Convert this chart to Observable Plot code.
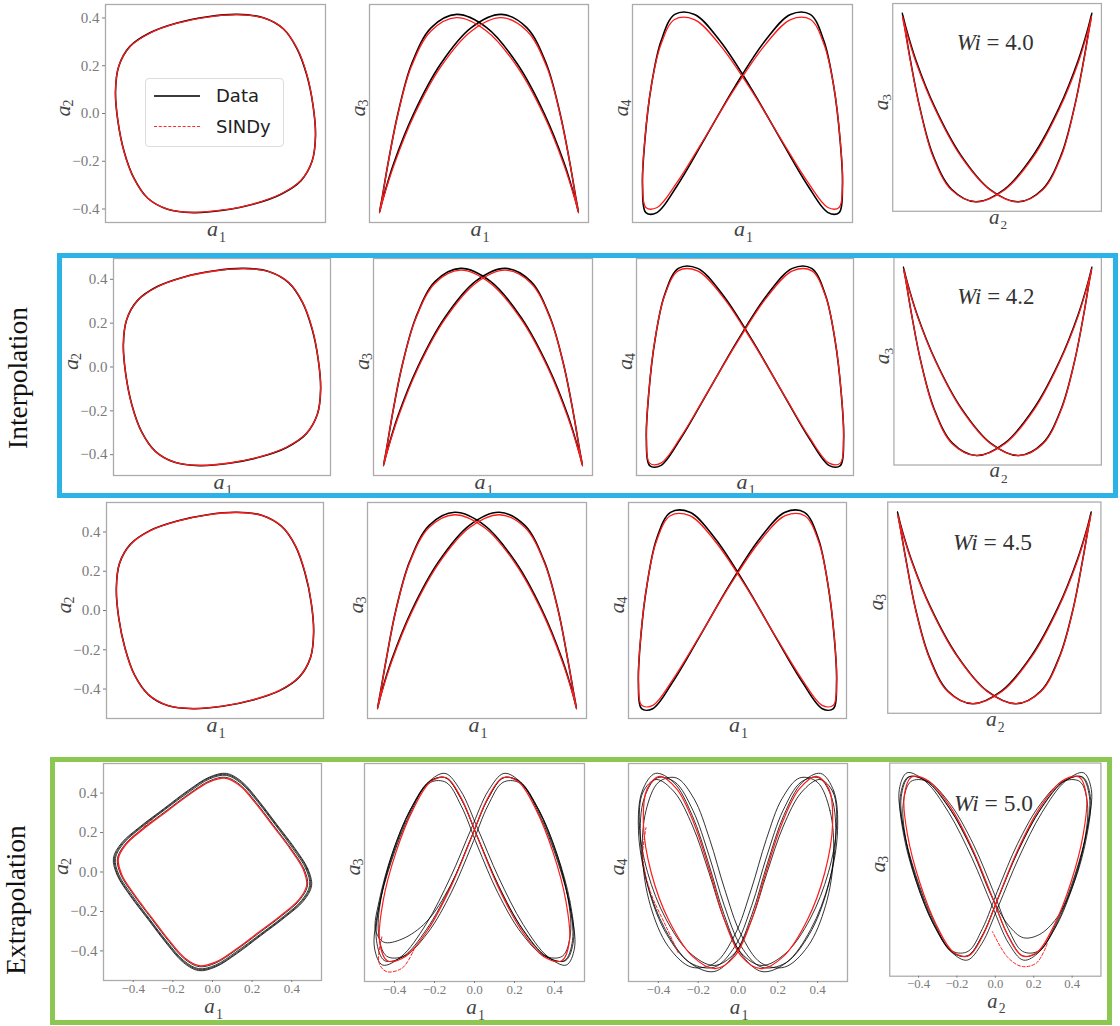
<!DOCTYPE html>
<html><head><meta charset="utf-8">
<script src="https://cdn.jsdelivr.net/npm/d3@7"></script>
<script src="https://cdn.jsdelivr.net/npm/@observablehq/plot@0.6"></script>
<style>
body{margin:0;background:#fff;}
#root{position:relative;width:1120px;height:1026px;overflow:hidden;background:#fff;}
.panel{position:absolute;}
.box{position:absolute;box-sizing:border-box;}
.rowlabel{position:absolute;font-family:"Liberation Serif",serif;font-size:27.5px;color:#111;transform:translate(-50%,-50%) rotate(-90deg);white-space:nowrap;}
.legend{position:absolute;left:145px;top:78px;width:139px;height:69px;box-sizing:border-box;border:1px solid #dcdcdc;border-radius:4px;background:rgba(255,255,255,0.85);font-family:"DejaVu Sans",sans-serif;font-size:18px;color:#222;}
.legend .ln{position:absolute;left:8px;width:46px;}
.legend .tx{position:absolute;left:70px;line-height:20px;}
</style></head><body><div id="root"></div>
<script>
// ---------- data (phase samples of each trajectory) ----------
const tickValues = [-0.4, -0.2, 0.0, 0.2, 0.4];
const wiLabels = ["4.0", "4.2", "4.5", "5.0"];
const rowNames = ["Interpolation", "Extrapolation"];

// Row 1, Wi = 4.0
const r1DataA1 = [0.415,0.405,0.379,0.338,0.281,0.199,0.093,-0.032,-0.160,-0.272,-0.355,-0.401,-0.415,-0.405,-0.379,-0.338,-0.281,-0.199,-0.093,0.032,0.160,0.272,0.355,0.401];
const r1DataA2 = [-0.093,0.032,0.160,0.272,0.355,0.401,0.415,0.405,0.379,0.338,0.281,0.199,0.093,-0.032,-0.160,-0.272,-0.355,-0.401,-0.415,-0.405,-0.379,-0.338,-0.281,-0.199];
const r1DataA3 = [-0.300,-0.260,-0.150,0.000,0.150,0.260,0.300,0.260,0.150,0.000,-0.150,-0.260,-0.300,-0.260,-0.150,0.000,0.150,0.260,0.300,0.260,0.150,0.000,-0.150,-0.260];
const r1DataA4 = [-0.212,-0.078,0.078,0.212,0.290,0.290,0.212,0.078,-0.078,-0.212,-0.290,-0.290,-0.212,-0.078,0.078,0.212,0.290,0.290,0.212,0.078,-0.078,-0.212,-0.290,-0.290];
const r1SindyA1 = [0.415,0.405,0.380,0.339,0.282,0.200,0.094,-0.031,-0.159,-0.271,-0.354,-0.401,-0.415,-0.405,-0.380,-0.339,-0.282,-0.200,-0.094,0.031,0.159,0.271,0.354,0.401];
const r1SindyA2 = [-0.092,0.033,0.161,0.272,0.355,0.400,0.414,0.404,0.378,0.337,0.281,0.200,0.094,-0.031,-0.159,-0.271,-0.354,-0.400,-0.414,-0.404,-0.378,-0.337,-0.281,-0.200];
const r1SindyA3 = [-0.300,-0.262,-0.155,-0.006,0.142,0.250,0.290,0.250,0.142,-0.006,-0.155,-0.262,-0.300,-0.262,-0.155,-0.006,0.142,0.250,0.290,0.250,0.142,-0.006,-0.155,-0.262];
const r1SindyA4 = [-0.201,-0.074,0.074,0.201,0.275,0.275,0.201,0.074,-0.074,-0.201,-0.275,-0.275,-0.201,-0.074,0.074,0.201,0.275,0.275,0.201,0.074,-0.074,-0.201,-0.275,-0.275];

// Row 2, Wi = 4.2
const r2DataA1 = [0.450,0.439,0.411,0.367,0.304,0.216,0.101,-0.034,-0.173,-0.295,-0.385,-0.435,-0.450,-0.439,-0.411,-0.367,-0.304,-0.216,-0.101,0.034,0.173,0.295,0.385,0.435];
const r2DataA2 = [-0.101,0.034,0.173,0.295,0.385,0.435,0.450,0.439,0.411,0.367,0.304,0.216,0.101,-0.034,-0.173,-0.295,-0.385,-0.435,-0.450,-0.439,-0.411,-0.367,-0.304,-0.216];
const r2DataA3 = [-0.326,-0.283,-0.163,0.000,0.163,0.283,0.326,0.283,0.163,0.000,-0.163,-0.283,-0.326,-0.283,-0.163,0.000,0.163,0.283,0.326,0.283,0.163,0.000,-0.163,-0.283];
const r2DataA4 = [-0.230,-0.084,0.084,0.230,0.315,0.315,0.230,0.084,-0.084,-0.230,-0.315,-0.315,-0.230,-0.084,0.084,0.230,0.315,0.315,0.230,0.084,-0.084,-0.230,-0.315,-0.315];
const r2SindyA1 = [0.450,0.439,0.412,0.368,0.305,0.217,0.102,-0.033,-0.172,-0.294,-0.384,-0.435,-0.450,-0.439,-0.412,-0.368,-0.305,-0.217,-0.102,0.033,0.172,0.294,0.384,0.435];
const r2SindyA2 = [-0.100,0.035,0.174,0.295,0.385,0.434,0.449,0.438,0.410,0.366,0.304,0.217,0.102,-0.033,-0.172,-0.294,-0.384,-0.434,-0.449,-0.438,-0.410,-0.366,-0.304,-0.217];
const r2SindyA3 = [-0.326,-0.285,-0.167,-0.004,0.158,0.277,0.320,0.277,0.158,-0.004,-0.167,-0.285,-0.326,-0.285,-0.167,-0.004,0.158,0.277,0.320,0.277,0.158,-0.004,-0.167,-0.285];
const r2SindyA4 = [-0.225,-0.082,0.082,0.225,0.307,0.307,0.225,0.082,-0.082,-0.225,-0.307,-0.307,-0.225,-0.082,0.082,0.225,0.307,0.307,0.225,0.082,-0.082,-0.225,-0.307,-0.307];

// Row 3, Wi = 4.5
const r3DataA1 = [0.500,0.488,0.456,0.408,0.338,0.240,0.112,-0.038,-0.192,-0.328,-0.428,-0.484,-0.500,-0.488,-0.456,-0.408,-0.338,-0.240,-0.112,0.038,0.192,0.328,0.428,0.484];
const r3DataA2 = [-0.112,0.038,0.192,0.328,0.428,0.484,0.500,0.488,0.456,0.408,0.338,0.240,0.112,-0.038,-0.192,-0.328,-0.428,-0.484,-0.500,-0.488,-0.456,-0.408,-0.338,-0.240];
const r3DataA3 = [-0.362,-0.314,-0.181,0.000,0.181,0.314,0.362,0.314,0.181,0.000,-0.181,-0.314,-0.362,-0.314,-0.181,0.000,0.181,0.314,0.362,0.314,0.181,0.000,-0.181,-0.314];
const r3DataA4 = [-0.256,-0.094,0.094,0.256,0.350,0.350,0.256,0.094,-0.094,-0.256,-0.350,-0.350,-0.256,-0.094,0.094,0.256,0.350,0.350,0.256,0.094,-0.094,-0.256,-0.350,-0.350];
const r3SindyA1 = [0.500,0.488,0.457,0.409,0.339,0.241,0.113,-0.037,-0.191,-0.327,-0.427,-0.484,-0.500,-0.488,-0.457,-0.409,-0.339,-0.241,-0.113,0.037,0.191,0.327,0.427,0.484];
const r3SindyA2 = [-0.111,0.039,0.193,0.328,0.428,0.483,0.499,0.487,0.455,0.407,0.338,0.241,0.113,-0.037,-0.191,-0.327,-0.427,-0.483,-0.499,-0.487,-0.455,-0.407,-0.338,-0.241];
const r3SindyA3 = [-0.362,-0.316,-0.185,-0.005,0.175,0.306,0.353,0.306,0.175,-0.005,-0.185,-0.316,-0.362,-0.316,-0.185,-0.005,0.175,0.306,0.353,0.306,0.175,-0.005,-0.185,-0.316];
const r3SindyA4 = [-0.247,-0.091,0.091,0.247,0.338,0.338,0.247,0.091,-0.091,-0.247,-0.338,-0.338,-0.247,-0.091,0.091,0.247,0.338,0.338,0.247,0.091,-0.091,-0.247,-0.338,-0.338];

// Row 4, Wi = 5.0 (data: four successive loops of 24 samples)
const r4DataA1 = [
 0.490,0.472,0.406,0.317,0.226,0.145,0.069,-0.015,-0.118,-0.239,-0.358,-0.449,-0.490,-0.472,-0.406,-0.317,-0.226,-0.145,-0.069,0.015,0.118,0.239,0.358,0.449,
 0.500,0.481,0.415,0.323,0.230,0.147,0.070,-0.016,-0.121,-0.243,-0.365,-0.459,-0.500,-0.481,-0.415,-0.323,-0.230,-0.147,-0.070,0.016,0.121,0.243,0.365,0.459,
 0.480,0.462,0.398,0.310,0.221,0.142,0.067,-0.015,-0.116,-0.234,-0.351,-0.440,-0.480,-0.462,-0.398,-0.310,-0.221,-0.142,-0.067,0.015,0.116,0.234,0.351,0.440,
 0.495,0.477,0.411,0.320,0.228,0.146,0.070,-0.016,-0.120,-0.241,-0.362,-0.454,-0.495,-0.477,-0.411,-0.320,-0.228,-0.146,-0.070,0.016,0.120,0.241,0.362,0.454];
const r4DataA2 = [
 -0.069,0.015,0.118,0.239,0.358,0.449,0.490,0.472,0.406,0.317,0.226,0.145,0.069,-0.015,-0.118,-0.239,-0.358,-0.449,-0.490,-0.472,-0.406,-0.317,-0.226,-0.145,
 -0.070,0.016,0.121,0.243,0.365,0.459,0.500,0.481,0.415,0.323,0.230,0.147,0.070,-0.016,-0.121,-0.243,-0.365,-0.459,-0.500,-0.481,-0.415,-0.323,-0.230,-0.147,
 -0.067,0.015,0.116,0.234,0.351,0.440,0.480,0.462,0.398,0.310,0.221,0.142,0.067,-0.015,-0.116,-0.234,-0.351,-0.440,-0.480,-0.462,-0.398,-0.310,-0.221,-0.142,
 -0.070,0.016,0.120,0.241,0.362,0.454,0.495,0.477,0.411,0.320,0.228,0.146,0.070,-0.016,-0.120,-0.241,-0.362,-0.454,-0.495,-0.477,-0.411,-0.320,-0.228,-0.146];
const r4DataA3 = [
 -0.230,-0.103,0.052,0.193,0.282,0.295,0.230,0.103,-0.052,-0.193,-0.282,-0.295,-0.230,-0.103,0.052,0.193,0.282,0.295,0.230,0.103,-0.052,-0.193,-0.282,-0.295,
 -0.254,-0.131,0.027,0.178,0.281,0.309,0.254,0.131,-0.027,-0.178,-0.281,-0.309,-0.254,-0.131,0.027,0.178,0.281,0.309,0.254,0.131,-0.027,-0.178,-0.281,-0.309,
 -0.205,-0.075,0.075,0.205,0.280,0.280,0.205,0.075,-0.075,-0.205,-0.280,-0.280,-0.205,-0.075,0.075,0.205,0.280,0.280,0.205,0.075,-0.075,-0.205,-0.280,-0.280,
 -0.230,-0.103,0.052,0.193,0.282,0.295,0.230,0.103,-0.052,-0.170,-0.225,-0.235,-0.195,-0.103,0.052,0.193,0.282,0.295,0.230,0.103,-0.052,-0.193,-0.282,-0.295];
const r4DataA4 = [
 0.103,0.230,0.295,0.282,0.193,0.052,-0.103,-0.230,-0.295,-0.282,-0.193,-0.052,0.103,0.230,0.295,0.282,0.193,0.052,-0.103,-0.230,-0.295,-0.282,-0.193,-0.052,
 0.131,0.254,0.309,0.281,0.178,0.027,-0.131,-0.254,-0.309,-0.281,-0.178,-0.027,0.131,0.254,0.309,0.281,0.178,0.027,-0.131,-0.254,-0.309,-0.281,-0.178,-0.027,
 0.052,0.193,0.282,0.295,0.230,0.103,-0.052,-0.193,-0.282,-0.295,-0.230,-0.103,0.052,0.193,0.282,0.295,0.230,0.103,-0.052,-0.193,-0.282,-0.295,-0.230,-0.103,
 0.145,0.251,0.290,0.251,0.145,0.000,-0.145,-0.251,-0.290,-0.251,-0.145,0.000,0.145,0.251,0.290,0.251,0.145,0.000,-0.145,-0.251,-0.290,-0.251,-0.145,0.000];
const r4SindyA1 = [0.475,0.457,0.394,0.307,0.219,0.140,0.067,-0.015,-0.115,-0.231,-0.347,-0.436,-0.475,-0.457,-0.394,-0.307,-0.219,-0.140,-0.067,0.015,0.115,0.231,0.347,0.436];
const r4SindyA2 = [-0.067,0.015,0.115,0.231,0.347,0.436,0.475,0.457,0.394,0.307,0.219,0.140,0.067,-0.015,-0.115,-0.231,-0.347,-0.436,-0.475,-0.457,-0.394,-0.307,-0.219,-0.140];
const r4SindyA3 = [-0.230,-0.103,0.052,0.193,0.282,0.295,0.230,0.103,-0.052,-0.193,-0.282,-0.295,-0.230,-0.103,0.052,0.193,0.282,0.295,0.230,0.103,-0.052,-0.193,-0.282,-0.295];
const r4SindyA4 = [0.150,0.260,0.300,0.260,0.150,0.000,-0.150,-0.260,-0.300,-0.260,-0.150,0.000,0.150,0.260,0.300,0.260,0.150,0.000,-0.150,-0.260,-0.300,-0.260,-0.150,0.000];
// SINDy start-up transient (dashed), Wi = 5.0
const r4TransA1 = [-0.300,-0.360,-0.440,-0.478,-0.462];
const r4TransA2 = [0.270,0.215,0.140,0.065,-0.015];
const r4TransA3 = [-0.255,-0.318,-0.330,-0.300,-0.215];
const r4TransA4 = [-0.250,-0.170,-0.060,0.050,0.140];

// ---------- layout ----------
const panelFrames = [
  [[105,4,325,222],[369,4,588,222],[632,4,852,222],[896,4,1115,222]],
  [[113,258,330,475],[373,258,592,475],[636,258,853,475],[897,258,1114,475]],
  [[106,502,323,718],[367,502,586,718],[628,502,846,718],[889,502,1107,718]],
  [[103,763,321,980],[364,763,584,981],[628,763,847,981],[891,763,1107,981]]
];
const colVars = [["a1","a2"],["a1","a3"],["a1","a4"],["a2","a3"]];

function table(a1, a2, a3, a4) {
  return a1.map((v, i) => ({a1: v, a2: a2[i], a3: a3[i], a4: a4[i], loop: Math.floor(i / 24)}));
}
const rows = [
  {data: table(r1DataA1, r1DataA2, r1DataA3, r1DataA4), sindy: table(r1SindyA1, r1SindyA2, r1SindyA3, r1SindyA4), trans: [], bw: 1.6, bo: 1, rw: 1.3},
  {data: table(r2DataA1, r2DataA2, r2DataA3, r2DataA4), sindy: table(r2SindyA1, r2SindyA2, r2SindyA3, r2SindyA4), trans: [], bw: 1.6, bo: 1, rw: 1.3},
  {data: table(r3DataA1, r3DataA2, r3DataA3, r3DataA4), sindy: table(r3SindyA1, r3SindyA2, r3SindyA3, r3SindyA4), trans: [], bw: 1.6, bo: 1, rw: 1.3},
  {data: table(r4DataA1, r4DataA2, r4DataA3, r4DataA4), sindy: table(r4SindyA1, r4SindyA2, r4SindyA3, r4SindyA4), trans: table(r4TransA1, r4TransA2, r4TransA3, r4TransA4), bw: 1.0, bo: 0.8, rw: 1.2}
];

const ML = 80, MR = 20, MT = 20, MB = 60;
const root = document.getElementById("root");
const fmt = d3.format(".1f");
const serif = "'Liberation Serif', 'Times New Roman', serif";
const labelColor = "#444";

rows.forEach((row, r) => {
  colVars.forEach(([vx, vy], c) => {
    const [l, t, rr, b] = panelFrames[r][c];
    const w = rr - l, h = b - t;
    const all = row.data.concat(row.sindy, row.trans);
    const dom = k => { const [lo, hi] = d3.extent(all, d => d[k]); const p = (hi - lo) * 0.05; return [lo - p, hi + p]; };
    const marks = [Plot.frame({stroke: "#ababab", strokeWidth: 1.3})];
    if (c === 0) marks.push(Plot.axisY({ticks: tickValues, tickFormat: fmt, tickSize: 3, tickPadding: 3, label: null}));
    if (r === 3) marks.push(Plot.axisX({ticks: tickValues, tickFormat: fmt, tickSize: 2, tickPadding: 1, fontSize: 13, label: null}));
    marks.push(Plot.line(row.data, {x: vx, y: vy, z: "loop", curve: "catmull-rom-closed", stroke: "#000", strokeWidth: row.bw, strokeOpacity: row.bo}));
    marks.push(Plot.line(row.sindy, {x: vx, y: vy, z: "loop", curve: "catmull-rom-closed", stroke: "#ff1a1a", strokeWidth: row.rw}));
    if (row.trans.length) marks.push(Plot.line(row.trans, {x: vx, y: vy, curve: "catmull-rom", stroke: "#ff1a1a", strokeWidth: 1, strokeDasharray: "3,2"}));
    const xoff = r === 3 ? 32 : 13;
    const xfs = r === 3 ? 21 : 22;
    marks.push(Plot.text(["a"], {text: d => d, frameAnchor: "bottom", dy: xoff, dx: -3, fontSize: xfs, fontStyle: "italic", fill: labelColor, fontFamily: serif}));
    marks.push(Plot.text([vx.slice(1)], {text: d => d, frameAnchor: "bottom", dy: xoff + 6, dx: 7, fontSize: 14, fill: labelColor, fontFamily: serif}));
    const yoff = c === 0 ? -43 : -12;
    marks.push(Plot.text(["a"], {text: d => d, frameAnchor: "left", dx: yoff, dy: 3, rotate: -90, fontSize: 22, fontStyle: "italic", fill: labelColor, fontFamily: serif}));
    marks.push(Plot.text([vy.slice(1)], {text: d => d, frameAnchor: "left", dx: yoff + 6, dy: -7, rotate: -90, fontSize: 14, fill: labelColor, fontFamily: serif}));
    if (c === 3) {
      marks.push(Plot.text(["Wi"], {text: d => d, frameAnchor: "top", dy: 32, dx: -17, textAnchor: "end", fontSize: 24, fontStyle: "italic", fill: "#333", fontFamily: serif}));
      marks.push(Plot.text(["= " + wiLabels[r]], {text: d => d, frameAnchor: "top", dy: 32, dx: -11, textAnchor: "start", fontSize: 24, fill: "#333", fontFamily: serif}));
    }
    const svg = Plot.plot({
      width: w + ML + MR, height: h + MT + MB,
      marginLeft: ML, marginRight: MR, marginTop: MT, marginBottom: MB,
      x: Object.assign({domain: dom(vx)}, r === 3 ? {} : {axis: null}),
      y: Object.assign({domain: dom(vy)}, c === 0 ? {} : {axis: null}),
      style: {background: "transparent", overflow: "visible", color: "#7a7a7a", fontFamily: serif, fontSize: "15px"},
      marks
    });
    const div = document.createElement("div");
    div.className = "panel";
    div.style.left = (l - ML) + "px";
    div.style.top = (t - MT) + "px";
    div.appendChild(svg);
    root.appendChild(div);
  });
});

// legend
const lg = document.createElement("div");
lg.className = "legend";
lg.innerHTML = '<div class="ln" style="top:16px;border-top:2px solid #3a3a3a"></div><div class="tx" style="top:7px">Data</div>' +
  '<div class="ln" style="top:47px;border-top:1.3px dashed #ff2a2a"></div><div class="tx" style="top:38px">SINDy</div>';
root.appendChild(lg);

// boxes and row labels
const blue = document.createElement("div");
blue.className = "box";
Object.assign(blue.style, {left: "57px", top: "253px", width: "1061px", height: "245px", border: "5px solid #2bb3e8"});
root.appendChild(blue);
const green = document.createElement("div");
green.className = "box";
Object.assign(green.style, {left: "50px", top: "757px", width: "1062px", height: "268px", border: "5px solid #8cc751"});
root.appendChild(green);
[[rowNames[0], 18, 378], [rowNames[1], 16, 900]].forEach(([txt, x, y]) => {
  const d = document.createElement("div");
  d.className = "rowlabel";
  d.style.left = x + "px"; d.style.top = y + "px";
  d.textContent = txt;
  root.appendChild(d);
});
</script></body></html>
